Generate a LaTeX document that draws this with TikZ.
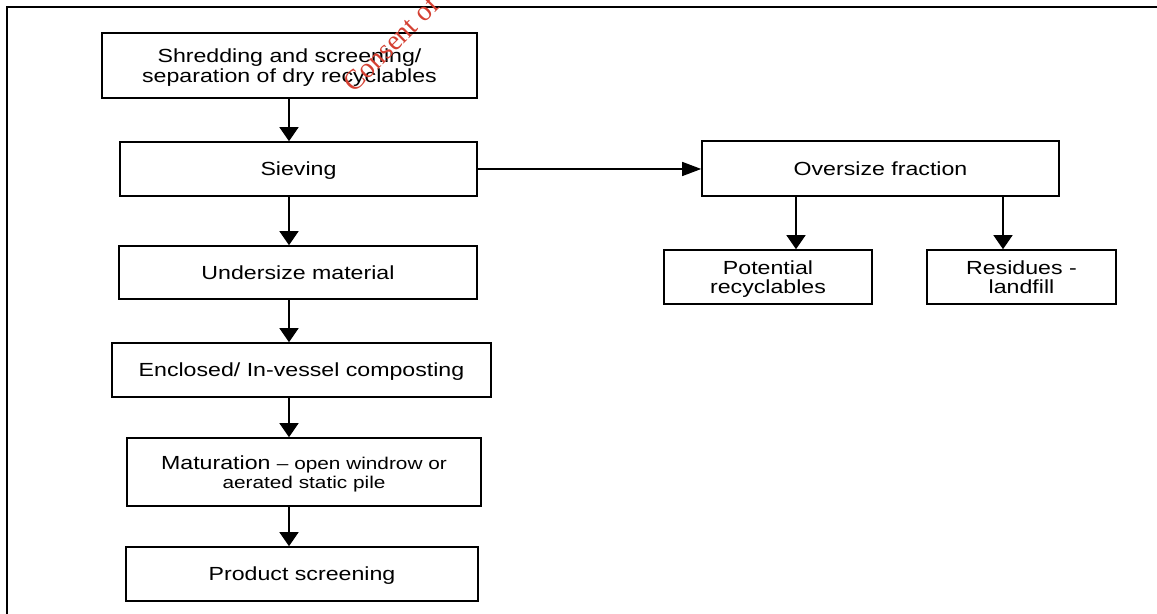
\documentclass[tikz,border=0pt]{standalone}
\usepackage{xcolor}
\usepackage{fontspec}
\usepackage{tikz}
\usetikzlibrary{positioning, arrows.meta, calc}
\newfontfamily\boxfont[FakeStretch=1.22]{Liberation Sans}
\newfontfamily\markfont{Liberation Serif}
\definecolor{markred}{RGB}{212,64,50}
\newcommand{\smalltxt}{\fontsize{9.7}{11}\selectfont}

\tikzset{
  stage/.style={draw=black, line width=0.9pt, align=center, inner sep=0pt, text depth=0pt, font=\boxfont\fontsize{10.8}{11.2}\selectfont},
  flow/.style={line width=0.75pt, -{Triangle[width=0.38cm, length=0.28cm]}},
  sideflow/.style={line width=0.75pt, -{Triangle[width=0.28cm, length=0.38cm]}}
}

\begin{document}
\begin{tikzpicture}
      \useasboundingbox (0,0) rectangle (23.14,12.28);
      \draw[line width=1.4pt] (0.14,0) -- (0.14,12.14) -- (23.14,12.14); % frame, cut off at right and bottom
      % main column
      \node[stage, minimum width=7.5cm, minimum height=1.3cm] (shred) at (5.79,10.97)
          {Shredding and screening/\\separation of dry recyclables};
      \node[stage, minimum width=7.14cm, minimum height=1.08cm] (sieve) at (5.97,8.90) {Sieving};
      \node[stage, minimum width=7.16cm, minimum height=1.06cm] (under) at (5.96,6.83) {Undersize material};
      \node[stage, minimum width=7.58cm, minimum height=1.08cm] (encl) at (6.03,4.88) {Enclosed/ In-vessel composting};
      \node[stage, minimum width=7.08cm, minimum height=1.36cm] (matur) at (6.08,2.84)
          {Maturation {\smalltxt – open windrow or}\\{\smalltxt aerated static pile}};
      \node[stage, minimum width=7.04cm, minimum height=1.08cm] (prod) at (6.04,0.80) {Product screening};
      % oversize branch
      \node[stage, minimum width=7.14cm, minimum height=1.10cm] (over) at (17.61,8.91) {Oversize fraction};
      \node[stage, minimum width=4.16cm, minimum height=1.08cm] (pot) at (15.36,6.74) {Potential\\recyclables};
      \node[stage, minimum width=3.78cm, minimum height=1.08cm] (resid) at (20.43,6.74) {Residues -\\landfill};
      \coordinate (spine) at (5.78,0);
      \coordinate (lft) at (15.92,0);
      \coordinate (rgt) at (20.06,0);
      \draw[flow] (spine |- shred.south) -- (spine |- sieve.north);
      \draw[flow] (spine |- sieve.south) -- (spine |- under.north);
      \draw[flow] (spine |- under.south) -- (spine |- encl.north);
      \draw[flow] (spine |- encl.south) -- (spine |- matur.north);
      \draw[flow] (spine |- matur.south) -- (spine |- prod.north);
      \draw[sideflow] (sieve.east) -- (sieve.east -| over.west);
      \draw[flow] (lft |- over.south) -- (lft |- pot.north);
      \draw[flow] (rgt |- over.south) -- (rgt |- resid.north);
      % watermark
      \begin{scope}
          \clip (0,0) rectangle (23.14,12.28);
          \node[anchor=base west, rotate=45, inner sep=0pt, text=markred, font=\markfont\fontsize{16}{16}\selectfont] (mark) at (7.08,10.40) {Consent of co};
      \end{scope}
  \end{tikzpicture}
\end{document}
